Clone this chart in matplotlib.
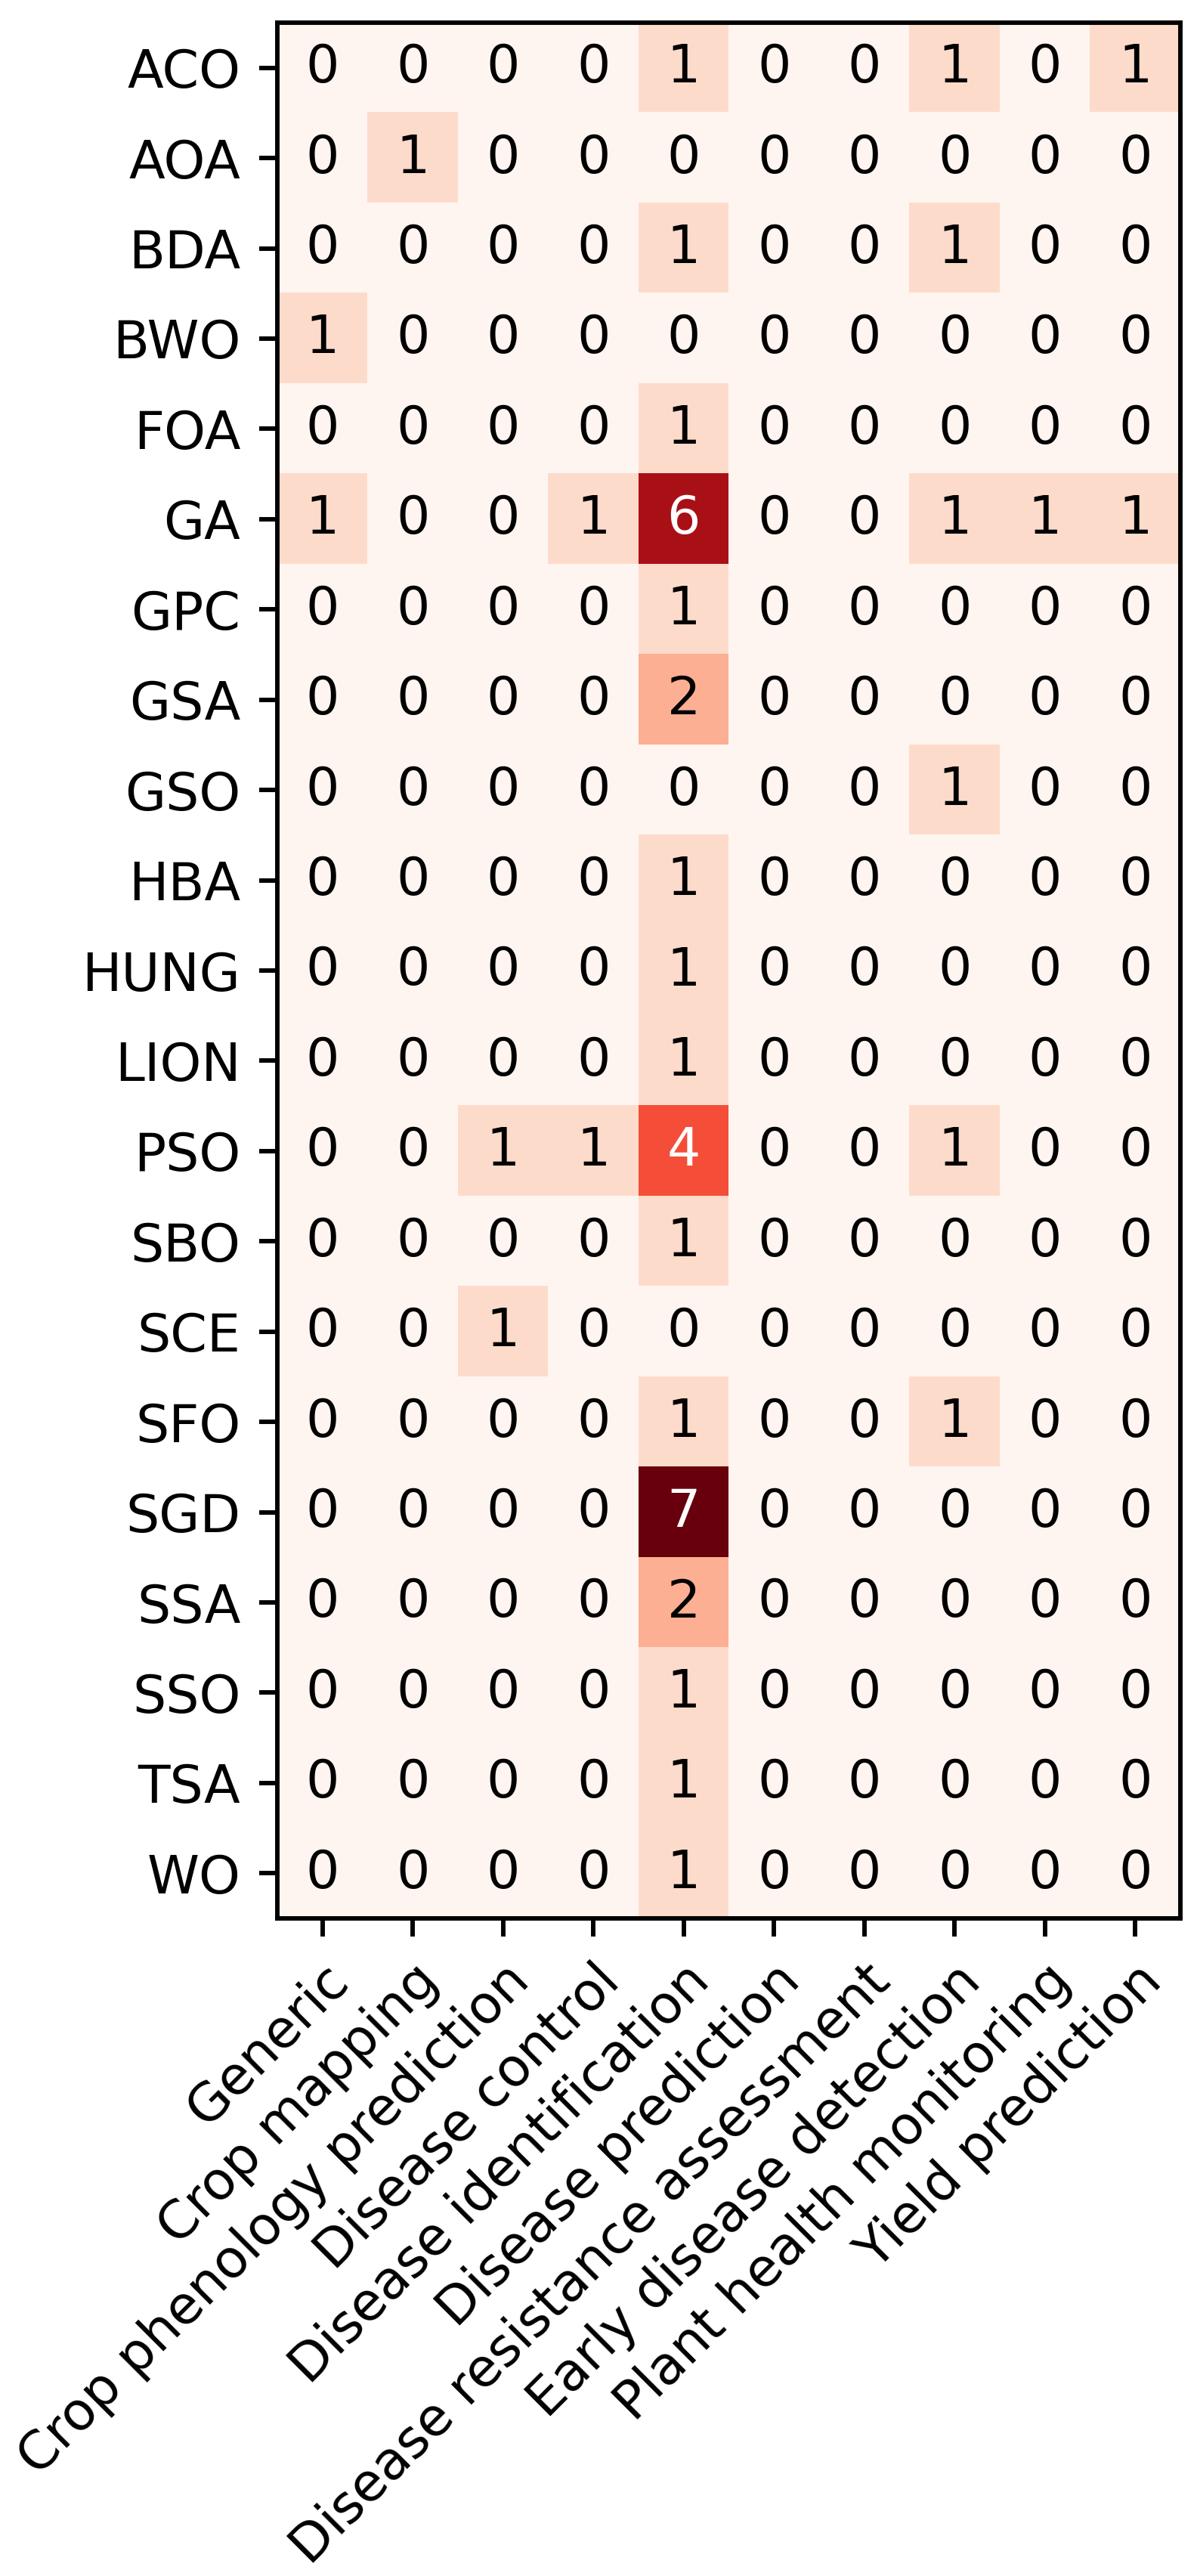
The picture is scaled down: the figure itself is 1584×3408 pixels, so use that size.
import numpy as np
import matplotlib
matplotlib.use("Agg")
import matplotlib.pyplot as plt

rows = ["ACO", "AOA", "BDA", "BWO", "FOA", "GA", "GPC", "GSA", "GSO", "HBA",
        "HUNG", "LION", "PSO", "SBO", "SCE", "SFO", "SGD", "SSA", "SSO", "TSA", "WO"]
cols = ["Generic", "Crop mapping", "Crop phenology prediction", "Disease control",
        "Disease identification", "Disease prediction", "Disease resistance assessment",
        "Early disease detection", "Plant health monitoring", "Yield prediction"]

ACO = [0, 0, 0, 0, 1, 0, 0, 1, 0, 1]
AOA = [0, 1, 0, 0, 0, 0, 0, 0, 0, 0]
BDA = [0, 0, 0, 0, 1, 0, 0, 1, 0, 0]
BWO = [1, 0, 0, 0, 0, 0, 0, 0, 0, 0]
FOA = [0, 0, 0, 0, 1, 0, 0, 0, 0, 0]
GA = [1, 0, 0, 1, 6, 0, 0, 1, 1, 1]
GPC = [0, 0, 0, 0, 1, 0, 0, 0, 0, 0]
GSA = [0, 0, 0, 0, 2, 0, 0, 0, 0, 0]
GSO = [0, 0, 0, 0, 0, 0, 0, 1, 0, 0]
HBA = [0, 0, 0, 0, 1, 0, 0, 0, 0, 0]
HUNG = [0, 0, 0, 0, 1, 0, 0, 0, 0, 0]
LION = [0, 0, 0, 0, 1, 0, 0, 0, 0, 0]
PSO = [0, 0, 1, 1, 4, 0, 0, 1, 0, 0]
SBO = [0, 0, 0, 0, 1, 0, 0, 0, 0, 0]
SCE = [0, 0, 1, 0, 0, 0, 0, 0, 0, 0]
SFO = [0, 0, 0, 0, 1, 0, 0, 1, 0, 0]
SGD = [0, 0, 0, 0, 7, 0, 0, 0, 0, 0]
SSA = [0, 0, 0, 0, 2, 0, 0, 0, 0, 0]
SSO = [0, 0, 0, 0, 1, 0, 0, 0, 0, 0]
TSA = [0, 0, 0, 0, 1, 0, 0, 0, 0, 0]
WO = [0, 0, 0, 0, 1, 0, 0, 0, 0, 0]

data = np.array([ACO, AOA, BDA, BWO, FOA, GA, GPC, GSA, GSO, HBA, HUNG, LION,
                 PSO, SBO, SCE, SFO, SGD, SSA, SSO, TSA, WO])

fs = 10.05
plt.rcParams["axes.linewidth"] = 0.85
plt.rcParams["xtick.major.width"] = 0.85
plt.rcParams["ytick.major.width"] = 0.85

fig = plt.figure(figsize=(1584 / 500, 3408 / 500), dpi=500)
ax = fig.add_axes([367 / 1584, 1 - 2538 / 3408, (1562 - 367) / 1584, (2538 - 30) / 3408])
im = ax.imshow(data, cmap="Reds", aspect="auto")

ax.set_xticks(np.arange(len(cols)))
ax.set_yticks(np.arange(len(rows)))
ax.set_xticklabels(cols, rotation=45, ha="right", rotation_mode="anchor", fontsize=fs)
ax.set_yticklabels(rows, fontsize=fs)

thresh = im.norm(data.max()) / 2.0
for i in range(data.shape[0]):
    for j in range(data.shape[1]):
        c = "white" if im.norm(data[i, j]) > thresh else "black"
        ax.text(j, i, str(data[i, j]), ha="center", va="center", color=c, fontsize=fs)

fig.savefig("out.png", dpi=500)
